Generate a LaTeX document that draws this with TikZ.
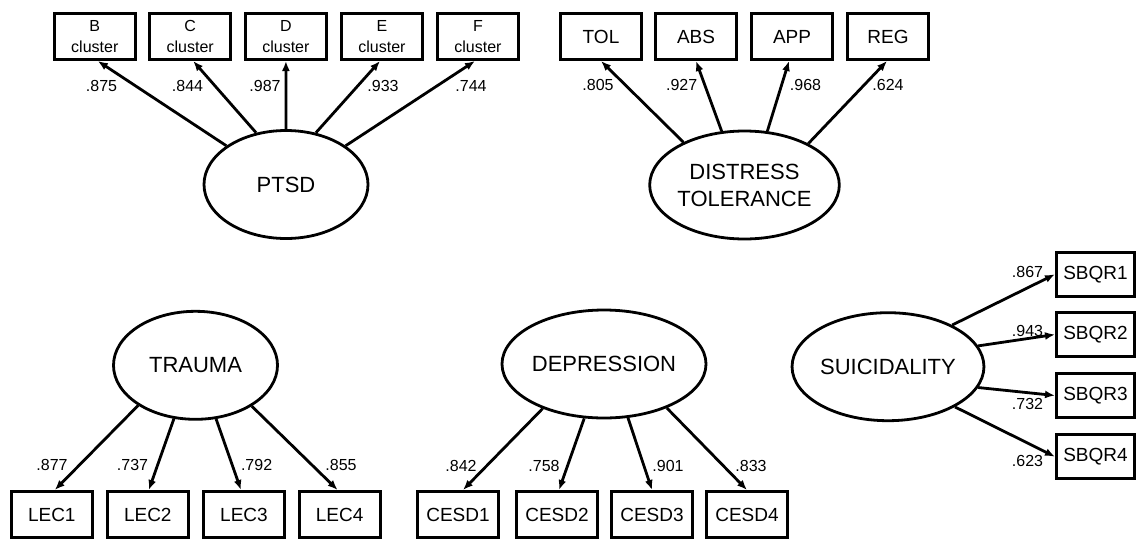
\documentclass[tikz,border=0pt]{standalone}
\usepackage{fontspec}
\setmainfont{Liberation Sans}
\usetikzlibrary{shapes.geometric,arrows.meta}
\begin{document}
\begin{tikzpicture}[x=1pt,y=-1pt,
  box/.style={draw,line width=3pt,minimum width=81pt,minimum height=46pt,inner sep=0pt,font=\fontsize{19}{21}\selectfont},
  cbox/.style={box,font=\fontsize{16}{21}\selectfont,align=center},
  sbox/.style={box,minimum width=78pt,minimum height=44pt},
  lat/.style={draw,ellipse,line width=2.8pt,minimum width=164pt,minimum height=108pt,inner sep=0pt,font=\fontsize{22}{27}\selectfont,align=center},
  arr/.style={line width=2.8pt,-{Latex[length=10pt,width=8pt]}},
  lab/.style={font=\fontsize{16}{18}\selectfont,inner sep=0pt}]
\useasboundingbox[fill=white] (0,0) rectangle (1137,539);

% PTSD
\node[cbox] (cb) at (94.8,36.5) {B\\cluster};
\node[cbox] (cc) at (190.2,36.5) {C\\cluster};
\node[cbox] (cd) at (285.9,36.5) {D\\cluster};
\node[cbox] (ce) at (382,36.5) {E\\cluster};
\node[cbox] (cf) at (478,36.5) {F\\cluster};
\node[lat] (ptsd) at (286,184.5) {PTSD};
\draw[arr] (ptsd.147) -- ([xshift=3pt]cb.south);
\draw[arr] (ptsd.120) -- ([xshift=3pt]cc.south);
\draw[arr] (ptsd.90) -- (cd.south);
\draw[arr] (ptsd.60) -- ([xshift=-2pt]ce.south);
\draw[arr] (ptsd.33) -- ([xshift=-3pt]cf.south);
\node[lab] (l1) at (101.5,86) {.875};
\node[lab] (l2) at (187.5,86) {.844};
\node[lab] (l3) at (265,86) {.987};
\node[lab] (l4) at (383,86) {.933};
\node[lab] (l5) at (471,86) {.744};

% Distress tolerance
\node[box] (tol) at (601,36.5) {TOL};
\node[box] (abs) at (696,36.5) {ABS};
\node[box] (app) at (792,36.5) {APP};
\node[box] (reg) at (888,36.5) {REG};
\node[lat] (dt) at (744.5,185) {DISTRESS\\TOLERANCE};
\draw[arr] (dt.145.6) -- (tol.south);
\draw[arr] (dt.113) -- (abs.south);
\draw[arr] (dt.67) -- ([xshift=-3pt]app.south);
\draw[arr] (dt.33.5) -- ([xshift=-1pt]reg.south);
\node[lab] (l6) at (598,85) {.805};
\node[lab] (l7) at (681.7,85) {.927};
\node[lab] (l8) at (805.5,85) {.968};
\node[lab] (l9) at (888,85) {.624};

% Trauma
\node[lat] (trauma) at (195.5,365.3) {TRAUMA};
\node[box] (lec1) at (51.8,514.5) {LEC1};
\node[box] (lec2) at (147.8,514.5) {LEC2};
\node[box] (lec3) at (244,514.5) {LEC3};
\node[box] (lec4) at (339.6,514.5) {LEC4};
\draw[arr] (trauma.215) -- ([xshift=3pt]lec1.north);
\draw[arr] (trauma.248) -- ([xshift=1pt]lec2.north);
\draw[arr] (trauma.291) -- ([xshift=-3pt]lec3.north);
\draw[arr] (trauma.324) -- ([xshift=-2pt]lec4.north);
\node[lab] (l10) at (52,465) {.877};
\node[lab] (l11) at (132.5,465) {.737};
\node[lab] (l12) at (256.6,465) {.792};
\node[lab] (l13) at (341,465) {.855};

% Depression
\node[lat] (dep) at (604,364) {DEPRESSION};
\node[box] (cesd1) at (458,514.5) {CESD1};
\node[box] (cesd2) at (557,514.5) {CESD2};
\node[box] (cesd3) at (652,514.5) {CESD3};
\node[box] (cesd4) at (747,514.5) {CESD4};
\draw[arr] (dep.216) -- ([xshift=5pt]cesd1.north);
\draw[arr] (dep.250) -- ([xshift=2pt]cesd2.north);
\draw[arr] (dep.294) -- (cesd3.north);
\draw[arr] (dep.325.5) -- (cesd4.north);
\node[lab] (l14) at (461,465.7) {.842};
\node[lab] (l15) at (544,465.7) {.758};
\node[lab] (l16) at (668,465.7) {.901};
\node[lab] (l17) at (751,465.7) {.833};

% Suicidality
\node[lat] (sui) at (888,366.7) {SUICIDALITY};
\node[sbox] (sbqr1) at (1095.5,274.3) {SBQR1};
\node[sbox] (sbqr2) at (1095.5,334.5) {SBQR2};
\node[sbox] (sbqr3) at (1095.5,395.5) {SBQR3};
\node[sbox] (sbqr4) at (1095.5,456.7) {SBQR4};
\draw[arr] (sui.33) -- (sbqr1.west);
\draw[arr] (sui.13) -- (sbqr2.west);
\draw[arr] (sui.-13) -- (sbqr3.west);
\draw[arr] (sui.-31) -- (sbqr4.west);
\node[lab] (l18) at (1027.5,272) {.867};
\node[lab] (l19) at (1027.5,331) {.943};
\node[lab] (l20) at (1027.5,404) {.732};
\node[lab] (l21) at (1027.5,461) {.623};
\end{tikzpicture}
\end{document}
